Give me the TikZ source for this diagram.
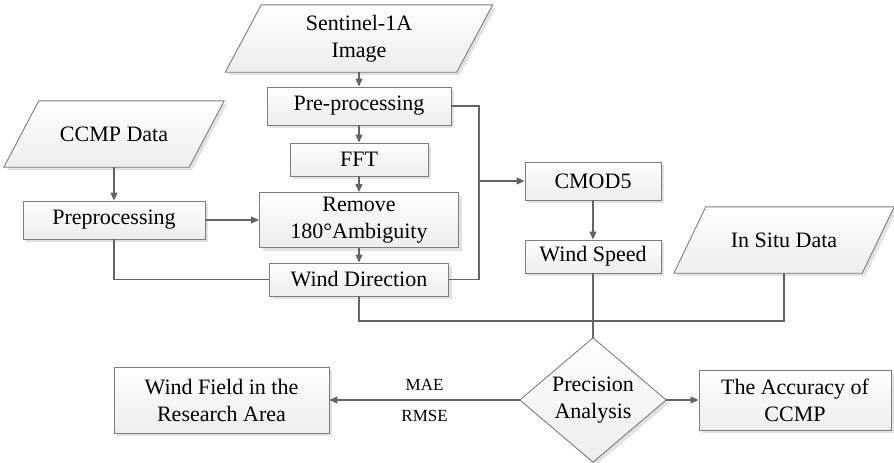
\documentclass[tikz,border=0pt]{standalone}
\usepackage{fontspec}
\setmainfont{Liberation Serif}
\usetikzlibrary{arrows.meta,shadows,backgrounds,calc}
\definecolor{ln}{RGB}{100,100,100}
\definecolor{bd}{RGB}{125,125,125}
\definecolor{shd}{RGB}{226,226,226}
\tikzset{
  base/.style={inner sep=0pt, align=center, font=\fontsize{22}{27}\selectfont},
  box/.style={base, rectangle, draw=bd, line width=0.9pt, top color=white, bottom color=gray!14,
    drop shadow={shadow xshift=3pt, shadow yshift=-3pt, fill=shd, opacity=1}},
  holder/.style={base, rectangle},
  shapefill/.style={draw=bd, line width=0.9pt, top color=white, bottom color=gray!14,
    drop shadow={shadow xshift=3pt, shadow yshift=-3pt, fill=shd, opacity=1}},
  conn/.style={draw=ln, line width=1.1pt},
  arr/.style={conn, -{Triangle[length=8pt,width=7pt]}},
  lab/.style={font=\fontsize{17}{20}\selectfont, text=black}
}
\begin{document}
\begin{tikzpicture}[x=1pt,y=-1pt]
\useasboundingbox (0,0) rectangle (894,463);
% column nodes
\node[holder, minimum width=231, minimum height=67] (sent) at (359,38.5) {Sentinel-1A\\Image};
\node[box, minimum width=184, minimum height=38] (pre) at (359,106) {Pre-processing};
\node[box, minimum width=138, minimum height=33] (fft) at (359,159.5) {FFT};
\node[box, minimum width=199, minimum height=55] (rem) at (359,220) {Remove\\180°Ambiguity};
\node[box, minimum width=179, minimum height=33] (wd) at (359,279.5) {Wind Direction};
% left
\node[holder, minimum width=185, minimum height=66] (ccmp) at (114,134) {CCMP Data};
\node[box, minimum width=182, minimum height=38] (prep) at (114,220) {Preprocessing};
% right
\node[box, minimum width=136, minimum height=38] (cmod) at (593,181) {CMOD5};
\node[box, minimum width=136, minimum height=33] (ws) at (593,256.5) {Wind Speed};
\node[holder, minimum width=188, minimum height=66] (insitu) at (784,240) {In Situ Data};
% bottom
\node[holder, minimum width=146, minimum height=124] (dia) at (593,400) {Precision\\Analysis};
\node[box, minimum width=215, minimum height=66] (wf) at (221.5,400) {Wind Field in the\\Research Area};
\node[box, minimum width=192, minimum height=60] (acc) at (795,400) {The Accuracy of\\CCMP};
% background shapes
\begin{pgfonlayer}{background}
  \foreach \n/\s in {sent/18, ccmp/17.5, insitu/16}{
    \path[shapefill] ($(\n.north west)+(\s,0)$) -- ($(\n.north east)+(\s,0)$)
      -- ($(\n.south east)-(\s,0)$) -- ($(\n.south west)-(\s,0)$) -- cycle;
  }
  \path[shapefill] (dia.north) -- (dia.east) -- (dia.south) -- (dia.west) -- cycle;
\end{pgfonlayer}
% connectors
\coordinate (jx) at (479,181);
\coordinate (hy) at (0,321);
\draw[arr] (sent.south) -- (pre.north);
\draw[arr] (pre) -- (fft);
\draw[arr] (fft) -- (rem);
\draw[arr] (rem) -- (wd);
\draw[arr] (ccmp.south) -- (prep.north);
\draw[arr] (prep) -- (rem);
\draw[conn] (prep.south) |- (wd.west);
\draw[conn] (pre.east) -| (jx) |- (wd.east);
\draw[arr] (jx) -- (cmod.west);
\draw[arr] (cmod) -- (ws);
\draw[conn] (ws.south) -- (dia.north);
\draw[conn] (wd.south) -- (wd.south |- hy) -- (insitu.south |- hy) -- (insitu.south);
\draw[arr] (dia.west) -- (wf.east)
  node[lab, pos=0.5, above=6pt] {MAE}
  node[lab, pos=0.5, below=6pt] {RMSE};
\draw[arr] (dia.east) -- (acc.west);
\end{tikzpicture}
\end{document}
